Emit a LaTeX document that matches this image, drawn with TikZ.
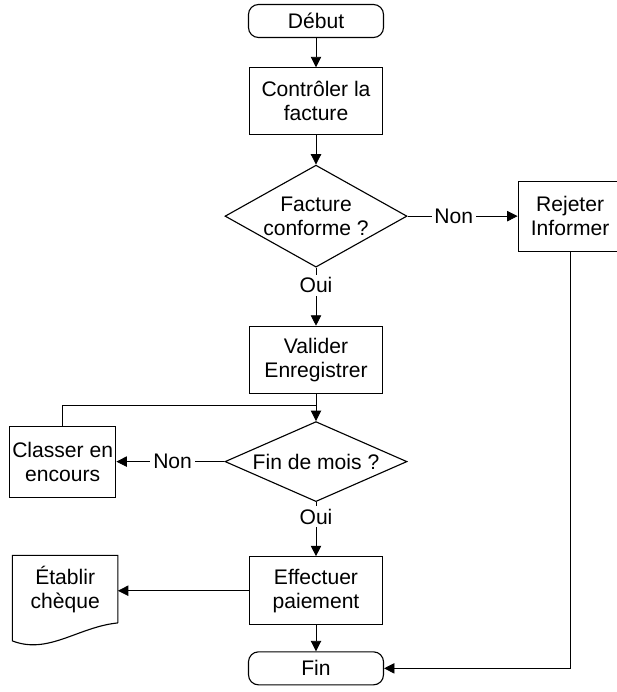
\documentclass[tikz,border=0pt]{standalone}
\usepackage{fontspec}
\setmainfont{Liberation Sans}
\usetikzlibrary{arrows.meta,positioning,shapes.geometric}

\begin{document}
\begin{tikzpicture}[
		terminal/.style={
			rectangle,
			draw,
			rounded corners=2.5mm,
			line width=0.8pt,
			align=center,
			minimum width=33.75mm,
			minimum height=8.25mm,
			inner sep=0pt,
			font=\fontsize{15}{17}\selectfont
		},
		process/.style={
			rectangle,
			draw,
			line width=0.8pt,
			align=center,
			minimum width=33.25mm,
			minimum height=16.75mm,
			inner sep=2pt,
			font=\fontsize{15}{17}\selectfont
		},
		decision/.style={
			diamond,
			draw,
			line width=0.8pt,
			align=center,
			aspect=1.8,
			minimum width=45.5mm,
			inner sep=0pt,
			font=\fontsize{15}{17}\selectfont
		},
		docbox/.style={
			rectangle,
			align=center,
			minimum width=26.25mm,
			minimum height=16.75mm,
			inner sep=2pt,
			font=\fontsize{15}{17}\selectfont
		},
		answer/.style={
			fill=white,
			inner sep=2pt,
			font=\fontsize{15}{17}\selectfont
		},
		arrow/.style={
			-{Triangle[length=2.6mm,width=2.6mm]},
			line width=0.6pt
		}
		]
		
		\useasboundingbox (-79mm,5.25mm) rectangle (75.25mm,-167.75mm);
		
		\node[terminal] (debut) {Début};
		
		\node[process, below=7.3mm of debut] (controle)
		{Contrôler la\\facture};
		
		\node[decision, minimum height=25.5mm, below=7.3mm of controle] (conforme)
		{Facture\\conforme ?};
		
		\node[process, minimum width=26mm, minimum height=17.5mm,
		right=27.5mm of conforme] (rejeter)
		{Rejeter\\Informer};
		
		\node[process, below=14.5mm of conforme] (valider)
		{Valider\\Enregistrer};
		
		\coordinate[below=3mm of valider] (retour);
		
		\node[decision, aspect=2.3, minimum height=20mm, below=6.8mm of valider] (finmois)
		{Fin de mois ?};
		
		\node[process, minimum width=26.25mm, minimum height=17.75mm,
		left=27mm of finmois] (classer)
		{Classer en\\encours};
		
		\node[process, minimum height=17mm, below=13.5mm of finmois] (paiement)
		{Effectuer\\paiement};
		
		\node[docbox, left=32.75mm of paiement.west, anchor=east,
		yshift=0.4mm] (cheque)
		{Établir\\chèque};
		
		\node[terminal, below=6.5mm of paiement] (fin) {Fin};
		
		% document outline
		\draw[line width=0.8pt]
		(cheque.south east) -- (cheque.north east) -- (cheque.north west)
		-- ([yshift=-4.5mm]cheque.south west)
		.. controls +(9mm,-3.5mm) and +(-10mm,-1mm) .. (cheque.south east);
		
		\draw[arrow] (debut) -- (controle);
		\draw[arrow] (controle) -- (conforme);
		
		\draw[arrow]
		(conforme.east)
		-- node[answer,pos=0.42] {Non}
		(rejeter.west);
		
		\draw[arrow]
		(conforme.south)
		-- node[answer,pos=0.3] {Oui}
		(valider.north);
		
		\draw[arrow] (valider) -- (finmois);
		\draw[line width=0.6pt] (classer.north) |- (retour);
		
		\draw[arrow]
		(finmois.west)
		-- node[answer,pos=0.48] {Non}
		(classer.east);
		
		\draw[arrow]
		(finmois.south)
		-- node[answer,pos=0.27] {Oui}
		(paiement.north);
		
		\draw[arrow] (paiement.west) -- (cheque.east |- paiement.west);
		\draw[arrow] (paiement) -- (fin);
		\draw[arrow] (rejeter.south) |- (fin.east);
		
	\end{tikzpicture}
\end{document}
